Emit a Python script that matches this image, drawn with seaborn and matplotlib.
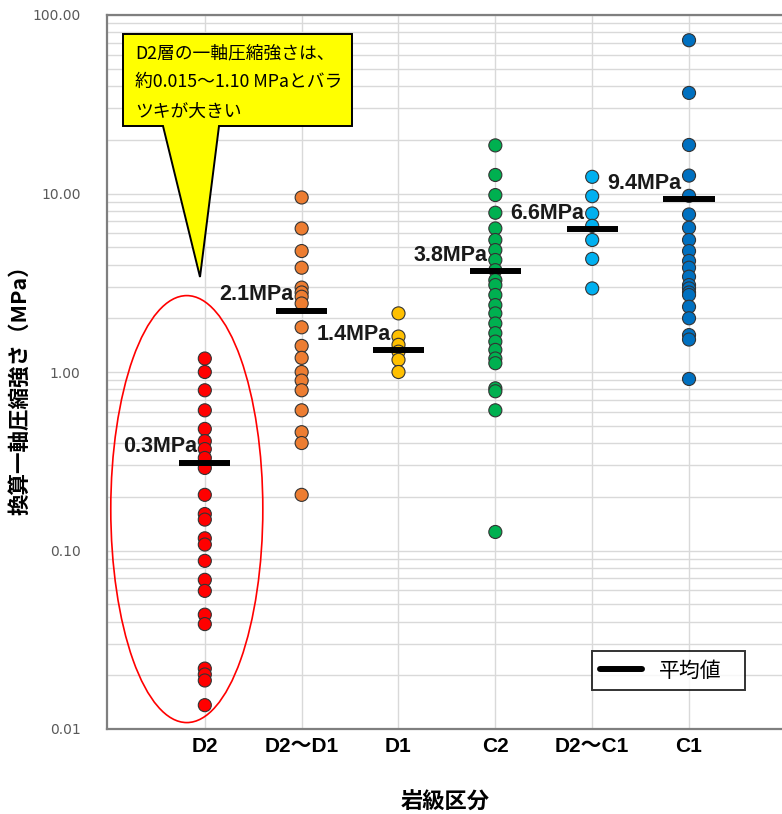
import matplotlib
matplotlib.use("Agg")
import matplotlib.pyplot as plt
import seaborn as sns
import pandas as pd
import numpy as np
from matplotlib.patches import Polygon, Ellipse
from matplotlib.lines import Line2D
from matplotlib.ticker import FixedLocator, FormatStrFormatter, LogLocator, NullFormatter

# ---------------- data ----------------
categories = ["D2", "D2～D1", "D1", "C2", "D2～C1", "C1"]
colors = ["#FF0000", "#ED7D31", "#FFC000", "#00B050", "#00B0F0", "#0070C0"]

d2 = [1.19, 1.00, 0.79, 0.61, 0.48, 0.41, 0.37, 0.33, 0.29, 0.205, 0.16, 0.149,
      0.117, 0.108, 0.0875, 0.0685, 0.0594, 0.0437, 0.0387, 0.0218, 0.0202,
      0.0187, 0.0136]
d2_d1 = [9.5, 6.37, 4.76, 3.84, 2.97, 2.79, 2.64, 2.42, 1.78, 1.40, 1.20, 1.00,
         0.895, 0.79, 0.61, 0.46, 0.40, 0.205]
d1 = [2.13, 1.58, 1.42, 1.30, 1.17, 1.00]
c2 = [18.6, 12.7, 9.8, 7.8, 6.37, 5.49, 4.82, 4.24, 3.72, 3.27, 3.07, 2.70, 2.37,
      2.13, 1.87, 1.65, 1.48, 1.33, 1.19, 1.12, 0.81, 0.78, 0.61, 0.127]
d2_c1 = [12.4, 9.66, 7.73, 6.59, 5.49, 4.30, 2.94]
c1 = [72.2, 36.6, 18.7, 12.6, 9.7, 7.63, 6.43, 5.49, 4.76, 4.19, 3.84, 3.42,
      3.07, 2.94, 2.79, 2.70, 2.32, 2.00, 1.61, 1.52, 0.914]

means = [0.31, 2.2, 1.32, 3.68, 6.32, 9.31]
mean_labels = ["0.3MPa", "2.1MPa", "1.4MPa", "3.8MPa", "6.6MPa", "9.4MPa"]

yticks = [0.01, 0.1, 1, 10, 100]

callout_lines = ["D2層の一軸圧縮強さは、", "約0.015～1.10 MPaとバラ", "ツキが大きい"]
ylabel = "換算一軸圧縮強さ（MPa）"
xlabel = "岩級区分"
legend_label = "平均値"

series = [d2, d2_d1, d1, c2, d2_c1, c1]
df = pd.DataFrame({
    "cat": np.concatenate([[c] * len(v) for c, v in zip(categories, series)]),
    "val": np.concatenate(series),
})

# ---------------- style ----------------
sns.set_theme(style="white")
plt.rcParams["font.family"] = ["Liberation Sans", "Noto Sans CJK JP", "DejaVu Sans"]
plt.rcParams["text.color"] = "black"
CJK = ["Noto Sans CJK JP", "DejaVu Sans"]

fig = plt.figure(figsize=(7.82, 8.14), dpi=100)
ax = fig.add_axes([107 / 782, 85 / 814, 675 / 782, 714 / 814])

sns.stripplot(data=df, x="cat", y="val", hue="cat", order=categories,
              hue_order=categories, palette=colors, jitter=False, size=9.4,
              linewidth=0.8, edgecolor="#333333", legend=False, ax=ax, zorder=3)

ax.set_yscale("log")
ax.set_ylim(0.01, 100)
ax.set_xlim(-1.01, 5.96)

ax.yaxis.set_major_locator(FixedLocator(yticks))
ax.yaxis.set_major_formatter(FormatStrFormatter("%.2f"))
ax.yaxis.set_minor_locator(LogLocator(base=10, subs=np.arange(2, 10)))
ax.yaxis.set_minor_formatter(NullFormatter())
ax.grid(True, which="both", axis="y", color="#d9d9d9", lw=1.0, zorder=0)
ax.grid(True, which="major", axis="x", color="#d9d9d9", lw=1.0, zorder=0)
ax.set_axisbelow(True)

ax.tick_params(axis="y", which="both", length=0, pad=19, labelsize=10,
               labelcolor="#595959")
for t in ax.get_yticklabels():
    t.set_family("DejaVu Sans")
ax.tick_params(axis="x", length=0, pad=6, labelsize=15, labelcolor="black")
for t in ax.get_xticklabels():
    t.set_fontweight("bold")

for s in ["left", "bottom", "top"]:
    ax.spines[s].set_color("#7f7f7f")
    ax.spines[s].set_linewidth(1.6)
ax.spines["right"].set_visible(False)

# mean lines + labels
for i, (m, lab) in enumerate(zip(means, mean_labels)):
    ax.hlines(m, i - 0.265, i + 0.265, color="black", lw=4.3, zorder=4)
    ax.annotate(lab, xy=(i, m), xytext=(-5.8, 11.5), textcoords="offset points",
                ha="right", va="center", fontsize=15.5, fontweight="bold",
                color="#1a1a1a", zorder=5)

# axis titles
ax.set_xlabel(xlabel, fontsize=16, fontweight="bold", family=CJK, color="black")
ax.xaxis.set_label_coords(0.5007, -0.087)
ax.set_ylabel(ylabel, fontsize=15.5, fontweight="bold", family=CJK, color="black")
ax.yaxis.set_label_coords(-0.113, 0.482)

# legend
h = Line2D([], [], color="black", lw=4.3)
leg = ax.legend([h], [legend_label], loc="lower left",
                bbox_to_anchor=(0.7185, 0.0546, 0.2265, 0.063), mode="expand",
                frameon=True, fancybox=False, handlelength=2.0,
                borderaxespad=0, prop={"family": CJK, "size": 15})
leg.get_frame().set_edgecolor("black")
leg.get_frame().set_linewidth(1.4)
for t in leg.get_texts():
    t.set_color("black")

# ellipse around D2
ell = Ellipse((-0.186, 0.308), width=1.57, height=0.598,
              transform=ax.get_xaxis_transform(), fill=False,
              edgecolor="#FF0000", lw=1.2, zorder=2)
ax.add_patch(ell)

# callout
def axf(px, py):
    return ((px - 107) / 675, (729 - py) / 714)

pts = [axf(123, 34), axf(352, 34), axf(352, 126), axf(219, 126),
       axf(200, 277), axf(163, 126), axf(123, 126)]
poly = Polygon(pts, closed=True, transform=ax.transAxes, facecolor="#FFFF00",
               edgecolor="black", lw=1.4, zorder=6)
ax.add_patch(poly)
for line, py in zip(callout_lines, [53, 82, 112]):
    x0, y0 = axf(135, py)
    ax.text(x0, y0, line, transform=ax.transAxes, ha="left", va="center",
            fontsize=12.8, family=CJK, color="black", zorder=7)

fig.savefig("out.png", dpi=100)
